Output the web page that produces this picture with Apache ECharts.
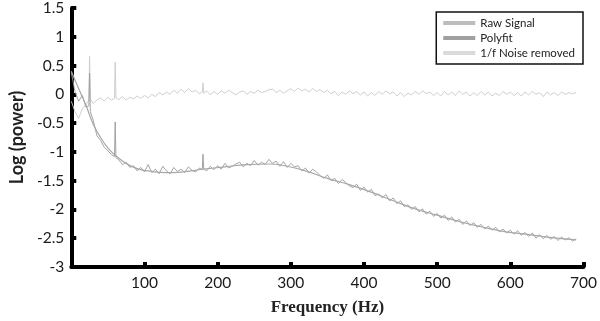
<!DOCTYPE html>
<html>
<head>
<meta charset="utf-8">
<script src="https://cdn.jsdelivr.net/npm/echarts@6/dist/echarts.min.js"></script>
<style>
  html, body { margin: 0; padding: 0; background: #fff; }
  #chart { width: 600px; height: 321px; }
</style>
</head>
<body>
<div id="chart"></div>
<script>
// frequency grid of the measured spectra (Hz)
const freq = [
  0, 5, 10, 15, 20, 24, 25, 26, 30, 35, 40, 45, 50, 55, 59, 60, 61, 65, 70, 75, 80, 85, 90, 95, 100,
  105, 110, 115, 120, 125, 130, 135, 140, 145, 150, 155, 160, 165, 170, 175, 179, 180, 181, 185, 190, 195, 200,
  205, 210, 215, 220, 225, 230, 235, 240, 245, 250, 255, 260, 265, 270, 275, 280, 285, 290, 295, 300,
  305, 310, 315, 320, 325, 330, 335, 340, 345, 350, 355, 360, 365, 370, 375, 380, 385, 390, 395, 400,
  405, 410, 415, 420, 425, 430, 435, 440, 445, 450, 455, 460, 465, 470, 475, 480, 485, 490, 495, 500,
  505, 510, 515, 520, 525, 530, 535, 540, 545, 550, 555, 560, 565, 570, 575, 580, 585, 590, 595, 600,
  605, 610, 615, 620, 625, 630, 635, 640, 645, 650, 655, 660, 665, 670, 675, 680, 685, 690
]

const rawSignal = [
  0.38, 0.05, -0.12, -0.02, -0.22, -0.2, 0.37, -0.3, -0.45, -0.72, -0.8, -0.92, -0.98, -1.05, -1.08, -0.48, -1.1, -1.14, -1.22, -1.18, -1.27, -1.24, -1.33, -1.27, -1.35,
  -1.22, -1.36, -1.3, -1.38, -1.25, -1.33, -1.38, -1.27, -1.34, -1.3, -1.36, -1.26, -1.32, -1.35, -1.28, -1.31, -1.04, -1.29, -1.33, -1.25, -1.31, -1.24,
  -1.3, -1.2, -1.28, -1.25, -1.21, -1.18, -1.26, -1.2, -1.24, -1.15, -1.23, -1.18, -1.22, -1.13, -1.2, -1.16, -1.25, -1.17, -1.27, -1.2,
  -1.26, -1.24, -1.33, -1.28, -1.37, -1.3, -1.35, -1.41, -1.46, -1.4, -1.5, -1.46, -1.55, -1.48, -1.53, -1.59, -1.62, -1.56, -1.67, -1.61,
  -1.7, -1.65, -1.76, -1.73, -1.8, -1.74, -1.85, -1.8, -1.9, -1.85, -1.95, -1.92, -2.0, -1.95, -2.04, -1.99, -2.08, -2.03, -2.12, -2.07,
  -2.15, -2.1, -2.19, -2.13, -2.22, -2.17, -2.26, -2.2, -2.28, -2.23, -2.31, -2.26, -2.34, -2.29, -2.36, -2.31, -2.39, -2.34, -2.41, -2.36,
  -2.43, -2.37, -2.45, -2.4, -2.47, -2.41, -2.5, -2.44, -2.51, -2.45, -2.52, -2.47, -2.54, -2.48, -2.53, -2.49, -2.55, -2.51
]

const noiseRemoved = [
  -0.12, -0.3, -0.42, -0.25, -0.18, -0.1, 0.66, -0.08, -0.16, -0.1, -0.06, -0.12, -0.05, -0.1, -0.07, 0.56, -0.06, -0.09, -0.04, -0.1, -0.05, -0.08, -0.03, -0.07, -0.02,
  -0.06, 0.0, -0.04, 0.03, -0.01, 0.04, 0.0, 0.07, 0.02, 0.09, 0.03, 0.1, 0.04, 0.07, 0.01, 0.04, 0.2, 0.02, 0.06, -0.01, 0.05, 0.0,
  0.06, 0.02, 0.07, 0.03, -0.01, 0.04, 0.06, 0.0, 0.05, 0.02, 0.07, 0.03, 0.05, 0.08, 0.09, 0.03, 0.07, 0.02, 0.06, 0.1,
  0.05, 0.11, 0.06, 0.09, 0.04, 0.1, 0.05, 0.08, 0.03, 0.07, 0.01, 0.05, -0.02, 0.04, 0.0, 0.06, 0.01, 0.05, -0.01, 0.04,
  -0.03, 0.03, -0.02, 0.05, 0.0, 0.06, 0.01, 0.04, -0.03, 0.03, -0.04, 0.02, -0.01, 0.05, 0.0, 0.06, 0.01, 0.04, -0.02, 0.03,
  -0.03, 0.05, -0.01, 0.04, -0.02, 0.06, 0.0, 0.04, -0.03, 0.03, -0.02, 0.05, -0.01, 0.04, -0.03, 0.02, -0.02, 0.05, 0.0, 0.04,
  -0.02, 0.03, -0.03, 0.04, -0.01, 0.05, 0.0, 0.03, -0.04, 0.04, -0.01, 0.03, -0.02, 0.04, 0.0, 0.03, 0.01, 0.03
]

// smooth polynomial fit
const fitFreq = [0, 10, 20, 30, 40, 50, 60, 75, 90, 110, 130, 150, 180, 210, 240, 270, 295, 320, 350, 380, 410, 440, 470, 500, 530, 560, 590, 620, 650, 690]
const fitValues = [0.4, 0.1, -0.19, -0.52, -0.75, -0.93, -1.06, -1.2, -1.29, -1.34, -1.36, -1.35, -1.3, -1.26, -1.22, -1.21, -1.25, -1.33, -1.46, -1.57, -1.7, -1.85, -1.99, -2.1, -2.21, -2.3, -2.38, -2.43, -2.48, -2.53]

const seriesNames = ['Raw Signal', 'Polyfit', '1/f Noise removed']

const pairs = (xs, ys) => xs.map((x, i) => [x, ys[i]])

const labelFont = {
  fontFamily: 'Lato',
  fontSize: 15.5,
  color: '#1a1a1a'
}

const chart = echarts.init(document.getElementById('chart'))
chart.setOption({
  animation: false,
  grid: {
    left: 62,
    right: 10,
    top: 7,
    bottom: 53
  },
  legend: {
    data: seriesNames,
    orient: 'vertical',
    right: 17,
    top: 12,
    icon: 'rect',
    itemWidth: 32,
    itemHeight: 4,
    itemGap: 3,
    padding: [5, 8, 5, 7],
    borderColor: '#111',
    borderWidth: 1.5,
    textStyle: {
      fontFamily: 'Lato',
      fontSize: 11.5,
      color: '#222'
    }
  },
  xAxis: {
    type: 'value',
    min: 0,
    max: 700,
    interval: 100,
    name: 'Frequency (Hz)',
    nameLocation: 'middle',
    nameGap: 32,
    nameTextStyle: {
      fontFamily: 'Liberation Serif',
      fontWeight: 'bold',
      fontSize: 17,
      color: '#222'
    },
    axisLine: {
      onZero: false,
      lineStyle: { color: '#000', width: 4 }
    },
    axisTick: {
      inside: true,
      length: 5,
      lineStyle: { color: '#000', width: 4 }
    },
    axisLabel: Object.assign({ margin: 8, showMinLabel: false }, labelFont),
    splitLine: { show: false }
  },
  yAxis: {
    type: 'value',
    min: -3,
    max: 1.5,
    interval: 0.5,
    name: 'Log (power)',
    nameLocation: 'middle',
    nameGap: 40,
    nameTextStyle: {
      fontFamily: 'Lato',
      fontWeight: 'bold',
      fontSize: 18,
      color: '#222'
    },
    axisLine: {
      show: true,
      lineStyle: { color: '#000', width: 4 }
    },
    axisTick: {
      show: true,
      inside: true,
      length: 5,
      lineStyle: { color: '#000', width: 4 }
    },
    axisLabel: Object.assign({ margin: 7 }, labelFont),
    splitLine: { show: false }
  },
  series: [
    {
      name: '1/f Noise removed',
      type: 'line',
      data: pairs(freq, noiseRemoved),
      symbol: 'none',
      itemStyle: { color: '#dadada' },
      lineStyle: { color: '#cacaca', width: 0.9 }
    },
    {
      name: 'Raw Signal',
      type: 'line',
      data: pairs(freq, rawSignal),
      symbol: 'none',
      itemStyle: { color: '#bdbdbd' },
      lineStyle: { color: '#9a9a9a', width: 0.9 }
    },
    {
      name: 'Polyfit',
      type: 'line',
      data: pairs(fitFreq, fitValues),
      symbol: 'none',
      smooth: true,
      itemStyle: { color: '#a0a0a0' },
      lineStyle: { color: '#a8a8a8', width: 1.2 }
    }
  ]
})
</script>
</body>
</html>
